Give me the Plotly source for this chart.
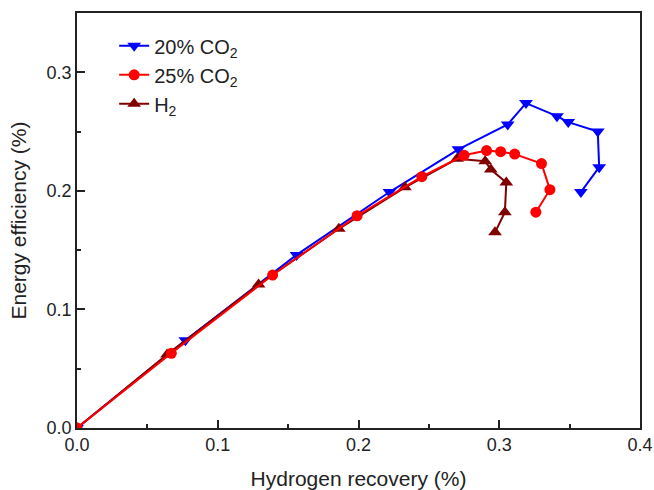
import plotly.graph_objects as go

# Data
co2_20_x = [0.0, 0.077, 0.156, 0.222, 0.271, 0.306, 0.319, 0.341, 0.349, 0.370, 0.371, 0.358]
co2_20_y = [0.0, 0.074, 0.146, 0.199, 0.235, 0.256, 0.274, 0.263, 0.258, 0.250, 0.220, 0.199]

co2_25_x = [0.0, 0.067, 0.139, 0.199, 0.245, 0.275, 0.291, 0.301, 0.311, 0.330, 0.336, 0.326]
co2_25_y = [0.0, 0.063, 0.129, 0.179, 0.212, 0.230, 0.234, 0.233, 0.231, 0.223, 0.201, 0.182]

h2_x = [0.0, 0.064, 0.129, 0.186, 0.233, 0.270, 0.290, 0.294, 0.305, 0.304, 0.297]
h2_y = [0.0, 0.062, 0.121, 0.168, 0.203, 0.227, 0.225, 0.218, 0.207, 0.182, 0.165]

x_ticks = [0.0, 0.1, 0.2, 0.3, 0.4]
y_ticks = [0.0, 0.1, 0.2, 0.3]

BLUE = "#0000FF"
RED = "#FF0000"
DARK = "#800000"
FONT = "Liberation Sans, Arial"

fig = go.Figure()
fig.add_trace(go.Scatter(
    x=co2_20_x, y=co2_20_y, mode="lines+markers", name="20% CO<sub>2</sub>",
    line=dict(color=BLUE, width=2), marker=dict(symbol="triangle-down", size=12, color=BLUE),
    legendrank=1))
fig.add_trace(go.Scatter(
    x=h2_x, y=h2_y, mode="lines+markers", name="H<sub>2</sub>",
    line=dict(color=DARK, width=2), marker=dict(symbol="triangle-up", size=12, color=DARK),
    legendrank=3))
fig.add_trace(go.Scatter(
    x=co2_25_x, y=co2_25_y, mode="lines+markers", name="25% CO<sub>2</sub>",
    line=dict(color=RED, width=2), marker=dict(symbol="circle", size=11, color=RED),
    legendrank=2))

axis_common = dict(
    showline=True, linecolor="#222222", linewidth=1.5, mirror=True,
    showgrid=False, zeroline=False, automargin=False,
    ticks="inside", ticklen=8, tickwidth=1.5, tickcolor="#222222",
    tickfont=dict(family=FONT, size=18, color="#222222"),
    minor=dict(ticks="inside", ticklen=4, tickwidth=1.5, tickcolor="#222222", dtick=0.05),
)

fig.update_xaxes(range=[0, 0.4], tickvals=x_ticks, ticktext=[f"{v:.1f}" for v in x_ticks],
                 title=dict(text="Hydrogen recovery (%)", standoff=22,
                            font=dict(family=FONT, size=21, color="#222222")),
                 **axis_common)
fig.update_yaxes(range=[0, 0.35], tickvals=y_ticks, ticktext=[f"{v:.1f}" for v in y_ticks],
                 title=dict(text="Energy efficiency (%)", standoff=14,
                            font=dict(family=FONT, size=21, color="#222222")),
                 **axis_common)

fig.update_layout(
    width=654, height=490,
    margin=dict(l=77, r=14, t=13, b=62),
    paper_bgcolor="white", plot_bgcolor="white",
    showlegend=True,
    legend=dict(x=0.066, y=0.968, xanchor="left", yanchor="top",
                bgcolor="rgba(0,0,0,0)",
                font=dict(family=FONT, size=20, color="#222222"),
                tracegroupgap=0),
)

fig.write_html("out.html", config={"displayModeBar": False},
               post_script="document.body.style.margin='0px';")
